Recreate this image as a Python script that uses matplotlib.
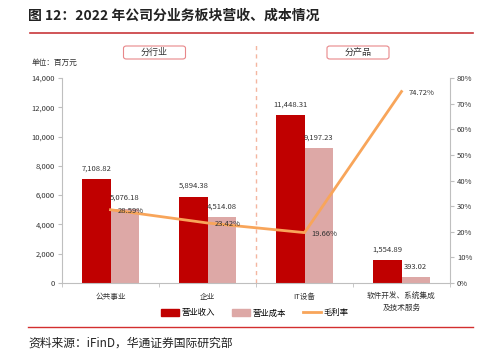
import matplotlib
matplotlib.use("Agg")
import matplotlib.pyplot as plt
from matplotlib.patches import FancyBboxPatch
from matplotlib.lines import Line2D
import numpy as np

plt.rcParams['font.family'] = ['Noto Sans CJK SC', 'DejaVu Sans']

categories = ['公共事业', '企业', 'IT设备', '软件开发、系统集成\n及技术服务']
revenue = [7108.82, 5894.38, 11448.31, 1554.89]
cost = [5076.18, 4514.08, 9197.23, 393.02]
margin = [28.59, 23.42, 19.66, 74.72]
left_ticks = [0, 2000, 4000, 6000, 8000, 10000, 12000, 14000]
right_ticks = [0, 10, 20, 30, 40, 50, 60, 70, 80]

red = '#C00000'
pink = '#DDA8A6'
orange = '#F8A55A'

fig = plt.figure(figsize=(4.88, 3.57), dpi=100)
ax = fig.add_axes([62/488, 1-283/357, 388/488, 205/357])
x = np.arange(len(categories))
w = 0.29
ax.bar(x - w/2, revenue, w, color=red, zorder=2)
ax.bar(x + w/2, cost, w, color=pink, zorder=2)
ax.set_xlim(-0.5, len(categories) - 0.5)
ax.set_ylim(0, 14000)
ax.set_yticks(left_ticks)
ax.set_yticklabels([f'{v:,}' for v in left_ticks], fontsize=5.5, color='#333333')
ax.set_xticks(x)
ax.set_xticklabels(categories, fontsize=5.5, color='#333333', linespacing=1.6)
ax.set_xticks(np.arange(len(categories) + 1) - 0.5, minor=True)
ax.tick_params(axis='x', which='major', length=0, pad=7)
ax.tick_params(axis='x', which='minor', length=3, color='#BFBFBF')
ax.tick_params(axis='y', length=3, color='#BFBFBF', pad=2)
for s in ['top', 'right']:
    ax.spines[s].set_visible(False)
ax.spines['left'].set_color('#BFBFBF')
ax.spines['bottom'].set_color('#BFBFBF')

for i in range(len(categories)):
    ax.text(x[i] - w/2, revenue[i] + 450, f'{revenue[i]:,.2f}', ha='center', va='bottom', fontsize=5.5, color='#333333')
    ax.text(x[i] + w/2, cost[i] + 450, f'{cost[i]:,.2f}', ha='center', va='bottom', fontsize=5.5, color='#333333')

ax.axvline(1.5, color='#F4B6A0', linestyle=(0, (3, 3)), linewidth=1.0, ymax=1.16, clip_on=False)

ax2 = ax.twinx()
ax2.plot(x, margin, color=orange, linewidth=2, zorder=3)
ax2.set_ylim(0, 80)
ax2.set_yticks(right_ticks)
ax2.set_yticklabels([f'{v}%' for v in right_ticks], fontsize=5.5, color='#333333')
ax2.tick_params(axis='y', length=3, color='#BFBFBF', pad=2)
for s in ['top', 'left', 'bottom']:
    ax2.spines[s].set_visible(False)
ax2.spines['right'].set_color('#BFBFBF')
for i in range(len(categories)):
    ax2.annotate(f'{margin[i]:.2f}%', (x[i], margin[i]), xytext=(5, -1), textcoords='offset points',
                 ha='left', va='center', fontsize=5.5, color='#333333', zorder=4)

# Group boxes
for cx, label in [(154.5, '分行业'), (358, '分产品')]:
    bx = FancyBboxPatch(((cx - 31)/488, 1 - 59/357), 62/488, 13/357,
                        boxstyle='round,pad=0,rounding_size=0.006', transform=fig.transFigure,
                        facecolor='white', edgecolor='#E8878A', linewidth=0.8)
    fig.patches.append(bx)
    fig.text(cx/488, 1 - 52.5/357, label, ha='center', va='center', fontsize=6.5, color='#333333')

fig.text(32/488, 1 - 63/357, '单位：百万元', ha='left', va='center', fontsize=5.5, color='#333333')

# Title and lines
fig.text(28/488, 1 - 16/357, '图 12：2022 年公司分业务板块营收、成本情况', ha='left', va='center',
         fontsize=10, fontweight='bold', color='#222222')
fig.add_artist(Line2D([30/488, 473/488], [1 - 33/357, 1 - 33/357], color='#C8373B', linewidth=1.2, transform=fig.transFigure))
fig.add_artist(Line2D([28/488, 473/488], [1 - 327/357, 1 - 327/357], color='#D32F2F', linewidth=1.0, transform=fig.transFigure))
fig.text(28/488, 1 - 343/357, '资料来源：iFinD，华通证券国际研究部', ha='left', va='center', fontsize=8.5, color='#222222')

# Legend
handles = [plt.Rectangle((0, 0), 1, 1, color=red), plt.Rectangle((0, 0), 1, 1, color=pink),
           Line2D([0], [0], color=orange, linewidth=2)]
fig.legend(handles, ['营业收入', '营业成本', '毛利率'], loc='center', bbox_to_anchor=(255/488, 1 - 313/357),
           ncol=3, frameon=False, fontsize=6, handlelength=2.2, handleheight=0.9, columnspacing=2.0, handletextpad=0.3)

fig.savefig('out.png', dpi=100)
